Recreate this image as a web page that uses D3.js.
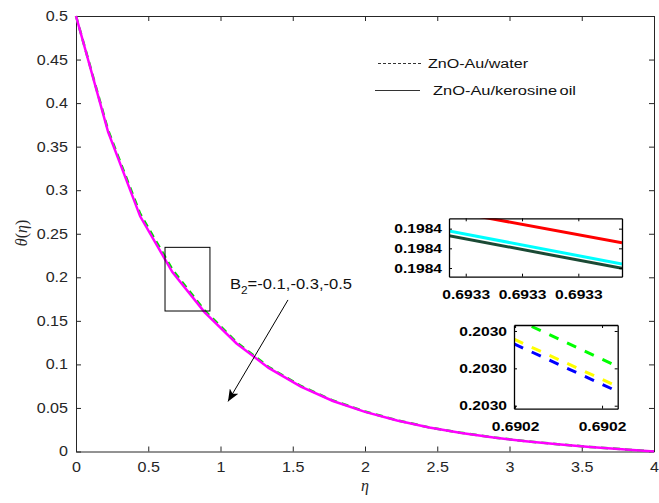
<!DOCTYPE html>
<html>
<head>
<meta charset="utf-8">
<script src="https://cdn.jsdelivr.net/npm/d3@7"></script>
<style>
   body { margin: 0; background: #fff; }
   text { font-family: "Liberation Sans", Arial, sans-serif; }
</style>
</head>
<body>
<script>
'use strict';

// main curve, eta grid and theta for the two base fluids
var etaVals = [0, 0.222, 0.444, 0.667, 0.889, 1.111, 1.333, 1.556, 1.778, 2.0,
               2.222, 2.444, 2.667, 2.889, 3.111, 3.333, 3.556, 3.778, 4.0];
var thetaKerosine = [0.5, 0.367, 0.270, 0.206, 0.160, 0.124, 0.096, 0.0745, 0.058, 0.0455,
                     0.0355, 0.0275, 0.0212, 0.0160, 0.0118, 0.0083, 0.0052, 0.0025, 0];
var thetaWater = [0.5, 0.369, 0.273, 0.209, 0.162, 0.1255, 0.097, 0.0752, 0.0585, 0.046,
                  0.0358, 0.0277, 0.0214, 0.0161, 0.0119, 0.0084, 0.0053, 0.0026, 0];

var xTicks = [0, 0.5, 1, 1.5, 2, 2.5, 3, 3.5, 4];
var yTicks = [0, 0.05, 0.1, 0.15, 0.2, 0.25, 0.3, 0.35, 0.4, 0.45, 0.5];

// zoom rectangle on the main curve [eta0, eta1, theta0, theta1]
var zoomBox = [0.616, 0.927, 0.1613, 0.2344];

// inset 1 (kerosine oil, solid)
var inset1XLim = [0.69328703, 0.69331776];
var inset1YLim = [0.19839712, 0.19840305];
var inset1XTicks = [0.69329, 0.69330, 0.69331];
var inset1YTicks = [0.198398, 0.198400, 0.198402];
var inset1X = [0.69328703, 0.69331776];
var inset1Red = [0.1984038, 0.19840057];
var inset1Cyan = [0.19840176, 0.19839841];
var inset1DarkGreen = [0.19840128, 0.19839797];

// inset 2 (water, dashed)
var inset2XLim = [0.6901795, 0.6902272];
var inset2YLim = [0.2029784, 0.2030232];
var inset2XTicks = [0.69018, 0.69022];
var inset2YTicks = [0.20298, 0.20300, 0.20302];
var inset2X = [0.6901795, 0.6902272];
var inset2Green = [0.2030268, 0.2030010];
var inset2Yellow = [0.2030156, 0.2029903];
var inset2Blue = [0.2030131, 0.2029876];

var legendLabels = ["ZnO-Au/water", "ZnO-Au/kerosine oil"];

function stretch(sel, k){
   sel.each(function(){
      var w = this.getComputedTextLength();
      d3.select(this).attr("textLength", w * k).attr("lengthAdjust", "spacingAndGlyphs");
   });
}

var svg = d3.select("body").append("svg")
   .attr("width", 659)
   .attr("height", 503);

var m = {left: 76, right: 654, top: 16, bottom: 451.5};

var x = d3.scaleLinear().domain([0, 4]).range([m.left, m.right]);
var y = d3.scaleLinear().domain([0, 0.5]).range([m.bottom, m.top]);

var axisColor = "#262626";
var fmt = function(d){ return String(d); };

// axes (ticks inward, mirrored on top/right)
var gx = svg.append("g").attr("transform", "translate(0," + m.bottom + ")")
   .call(d3.axisBottom(x).tickValues(xTicks).tickFormat(fmt).tickSizeInner(-5).tickSizeOuter(0).tickPadding(11));
var gy = svg.append("g").attr("transform", "translate(" + m.left + ",0)")
   .call(d3.axisLeft(y).tickValues(yTicks).tickFormat(fmt).tickSizeInner(-5).tickSizeOuter(0).tickPadding(8));
var gxt = svg.append("g").attr("transform", "translate(0," + m.top + ")")
   .call(d3.axisTop(x).tickValues(xTicks).tickFormat("").tickSizeInner(-5).tickSizeOuter(0));
var gyr = svg.append("g").attr("transform", "translate(" + m.right + ",0)")
   .call(d3.axisRight(y).tickValues(yTicks).tickFormat("").tickSizeInner(-5).tickSizeOuter(0));

[gx, gy, gxt, gyr].forEach(function(g){
   g.selectAll("path.domain").attr("stroke", axisColor).attr("stroke-width", 1);
   g.selectAll(".tick line").attr("stroke", axisColor);
   g.selectAll("text").attr("fill", axisColor).style("font-size", "14px")
      .style("font-family", "'Liberation Sans', Arial, sans-serif");
});
stretch(gx.selectAll(".tick text"), 1.15);
stretch(gy.selectAll(".tick text"), 1.15);

// axis titles
svg.append("text")
   .attr("x", (m.left + m.right) / 2).attr("y", 491)
   .attr("text-anchor", "middle")
   .style("font-family", "'Liberation Serif', serif")
   .style("font-style", "italic").style("font-size", "16px")
   .attr("fill", axisColor)
   .text("η");

svg.append("text")
   .attr("transform", "translate(27,233) rotate(-90)")
   .attr("text-anchor", "middle")
   .style("font-family", "'Liberation Serif', serif")
   .style("font-size", "16px")
   .attr("fill", axisColor)
   .html("<tspan font-style='italic'>θ</tspan>(<tspan font-style='italic'>η</tspan>)");

// main curves
var lineFunction = d3.line()
   .x(function(d){ return x(d[0]); })
   .y(function(d){ return y(d[1]); });

svg.append("path")
   .attr("d", lineFunction(d3.zip(etaVals, thetaWater)))
   .attr("fill", "none")
   .attr("stroke", "#00e000")
   .attr("stroke-width", 2.5)
   .attr("stroke-dasharray", "7,5");

svg.append("path")
   .attr("d", lineFunction(d3.zip(etaVals, thetaKerosine)))
   .attr("fill", "none")
   .attr("stroke", "#ff00ff")
   .attr("stroke-width", 2.5);

// zoom rectangle
svg.append("rect")
   .attr("x", x(zoomBox[0])).attr("y", y(zoomBox[3]))
   .attr("width", x(zoomBox[1]) - x(zoomBox[0]))
   .attr("height", y(zoomBox[2]) - y(zoomBox[3]))
   .attr("fill", "none").attr("stroke", "#000").attr("stroke-width", 1);

// legend
var legend = svg.append("g");
legend.append("line")
   .attr("x1", 378).attr("x2", 423).attr("y1", 63.5).attr("y2", 63.5)
   .attr("stroke", "#333").attr("stroke-width", 1).attr("stroke-dasharray", "3,2");
legend.append("text")
   .attr("x", 428).attr("y", 68)
   .style("font-size", "12px").attr("fill", "#111")
   .attr("textLength", 100).attr("lengthAdjust", "spacingAndGlyphs")
   .text(legendLabels[0]);
legend.append("line")
   .attr("x1", 375).attr("x2", 420).attr("y1", 90.5).attr("y2", 90.5)
   .attr("stroke", "#333").attr("stroke-width", 1);
legend.append("text")
   .attr("x", 433).attr("y", 95)
   .style("font-size", "12px").attr("fill", "#111")
   .style("word-spacing", "-1.5px")
   .attr("textLength", 143).attr("lengthAdjust", "spacingAndGlyphs")
   .text(legendLabels[1]);

// annotation with arrow
svg.append("defs").append("marker")
   .attr("id", "arrowHead")
   .attr("viewBox", "0 0 12 10")
   .attr("refX", 12).attr("refY", 5)
   .attr("markerWidth", 12).attr("markerHeight", 10)
   .attr("markerUnits", "userSpaceOnUse")
   .attr("orient", "auto")
   .append("path").attr("d", "M0,0 L12,5 L0,10 L3,5 Z").attr("fill", "#000");

svg.append("line")
   .attr("x1", x(1.467)).attr("y1", y(0.174))
   .attr("x2", x(1.052)).attr("y2", y(0.0575))
   .attr("stroke", "#000").attr("stroke-width", 1)
   .attr("marker-end", "url(#arrowHead)");

svg.append("text")
   .attr("x", 230).attr("y", 289)
   .style("font-size", "14px").attr("fill", "#111")
   .attr("textLength", 122).attr("lengthAdjust", "spacingAndGlyphs")
   .html("B<tspan dy='5' font-size='10px'>2</tspan><tspan dy='-5'>=-0.1,-0.3,-0.5</tspan>");

// insets
function drawInset(box, xLim, yLim, xTk, yTk, xs, series, id){
   var ix = d3.scaleLinear().domain(xLim).range([box[0], box[1]]);
   var iy = d3.scaleLinear().domain(yLim).range([box[3], box[2]]);
   var g = svg.append("g");
   g.append("rect")
      .attr("x", box[0]).attr("y", box[2])
      .attr("width", box[1] - box[0]).attr("height", box[3] - box[2])
      .attr("fill", "#fff");
   svg.select("defs").append("clipPath").attr("id", id)
      .append("rect")
      .attr("x", box[0]).attr("y", box[2])
      .attr("width", box[1] - box[0]).attr("height", box[3] - box[2]);

   var il = d3.line()
      .x(function(d){ return ix(d[0]); })
      .y(function(d){ return iy(d[1]); });
   series.forEach(function(s){
      g.append("path")
         .attr("clip-path", "url(#" + id + ")")
         .attr("d", il(d3.zip(xs, s.values)))
         .attr("fill", "none")
         .attr("stroke", s.color)
         .attr("stroke-width", 3)
         .attr("stroke-dasharray", s.dash);
   });

   var f = d3.format(".4f");
   var ax = g.append("g").attr("transform", "translate(0," + box[3] + ")")
      .call(d3.axisBottom(ix).tickValues(xTk).tickFormat(f).tickSizeInner(-3).tickSizeOuter(0).tickPadding(13));
   var ay = g.append("g").attr("transform", "translate(" + box[0] + ",0)")
      .call(d3.axisLeft(iy).tickValues(yTk).tickFormat(f).tickSizeInner(-3).tickSizeOuter(0).tickPadding(7));
   var at = g.append("g").attr("transform", "translate(0," + box[2] + ")")
      .call(d3.axisTop(ix).tickValues(xTk).tickFormat("").tickSizeInner(-3).tickSizeOuter(0));
   var ar = g.append("g").attr("transform", "translate(" + box[1] + ",0)")
      .call(d3.axisRight(iy).tickValues(yTk).tickFormat("").tickSizeInner(-3).tickSizeOuter(0));
   [ax, ay, at, ar].forEach(function(a){
      a.selectAll("path.domain").attr("stroke", "#000").attr("stroke-width", 1.3);
      a.selectAll(".tick line").attr("stroke", "#000");
      a.selectAll("text").attr("fill", "#000")
         .style("font-size", "13px").style("font-weight", "bold")
         .style("font-family", "'Liberation Sans', Arial, sans-serif");
   });
   stretch(ax.selectAll(".tick text"), 1.2);
   stretch(ay.selectAll(".tick text"), 1.2);
}

drawInset([449, 622, 218.3, 276.7], inset1XLim, inset1YLim, inset1XTicks, inset1YTicks, inset1X, [
   {values: inset1Red, color: "#ff0000", dash: null},
   {values: inset1Cyan, color: "#00ffff", dash: null},
   {values: inset1DarkGreen, color: "#1b4a35", dash: null}
], "clip1");

drawInset([514, 617.7, 325, 408.7], inset2XLim, inset2YLim, inset2XTicks, inset2YTicks, inset2X, [
   {values: inset2Green, color: "#00ff00", dash: "10,9.5"},
   {values: inset2Yellow, color: "#ffff00", dash: "10,9.5"},
   {values: inset2Blue, color: "#0000ff", dash: "10,9.5"}
], "clip2");
</script>
</body>
</html>
